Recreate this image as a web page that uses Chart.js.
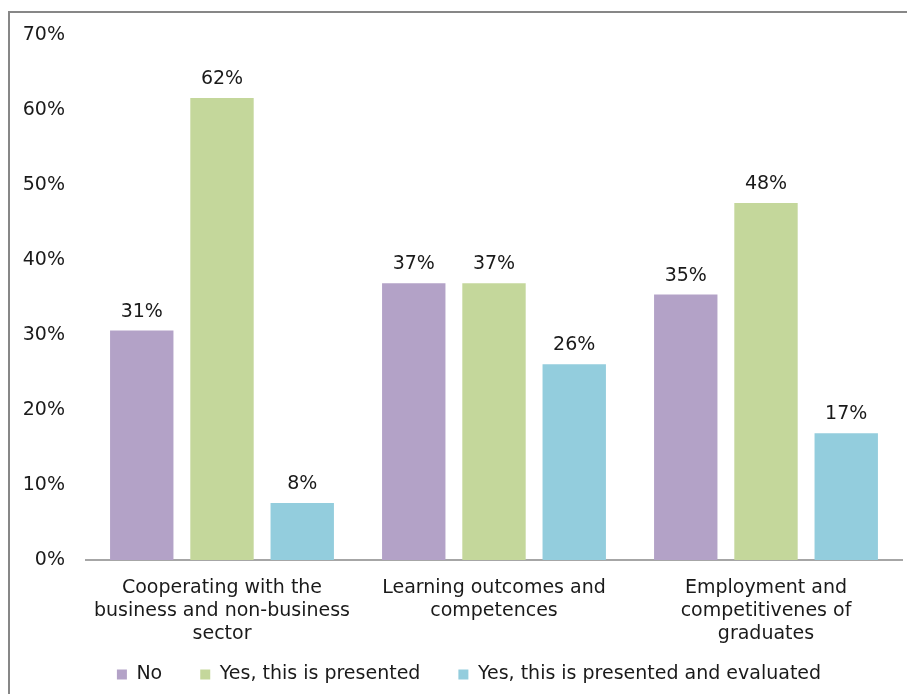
<!DOCTYPE html>
<html>
<head>
<meta charset="utf-8">
<script src="https://cdn.jsdelivr.net/npm/chart.js@4"></script>
<style>
  html, body { margin: 0; padding: 0; background: #fff; overflow: hidden; }
  #box {
    position: absolute;
    left: 8px;
    top: 11px;
    width: 922px;
    height: 720px;
    border: 2px solid #878787;
  }
  canvas { display: block; }
</style>
</head>
<body>
<div id="box"><canvas id="chart" width="922" height="680"></canvas></div>
<script>
const categories = [
  ['Cooperating with the', 'business and non-business', 'sector'],
  ['Learning outcomes and', 'competences'],
  ['Employment and', 'competitivenes of', 'graduates']
];
const seriesNames = ['No', 'Yes, this is presented', 'Yes, this is presented and evaluated'];
const noValues = [30.6, 36.9, 35.4];
const presentedValues = [61.6, 36.9, 47.6];
const evaluatedValues = [7.6, 26.1, 16.9];
const colors = ['#b3a2c7', '#c4d79b', '#93cddd'];

const font = "'DejaVu Sans', Verdana, sans-serif";

const valueLabels = {
  id: 'valueLabels',
  afterDatasetsDraw(chart) {
    const ctx = chart.ctx;
    ctx.save();
    ctx.font = `19px ${font}`;
    ctx.fillStyle = '#1a1a1a';
    ctx.textAlign = 'center';
    ctx.textBaseline = 'alphabetic';
    chart.data.datasets.forEach((ds, i) => {
      chart.getDatasetMeta(i).data.forEach((bar, j) => {
        ctx.fillText(Math.round(ds.data[j]) + '%', bar.x, bar.y - 14);
      });
    });
    ctx.restore();
  }
};

// pull the legend up under the axis labels and centre it on the frame
const legendPlace = {
  id: 'legendPlace',
  afterLayout(chart) {
    const l = chart.legend;
    l.top = 614;
    l.bottom = chart.height;
    l.height = l.bottom - l.top;
    l.left += 13;
    l.right += 13;
  }
};

new Chart(document.getElementById('chart'), {
  type: 'bar',
  data: {
    labels: categories,
    datasets: [
      { label: seriesNames[0], data: noValues, backgroundColor: colors[0] },
      { label: seriesNames[1], data: presentedValues, backgroundColor: colors[1] },
      { label: seriesNames[2], data: evaluatedValues, backgroundColor: colors[2] }
    ]
  },
  options: {
    responsive: false,
    animation: false,
    categoryPercentage: 0.885,
    barPercentage: 0.79,
    layout: { padding: { left: 0, right: 30, top: 22, bottom: 0 } },
    scales: {
      x: {
        grid: { display: false, drawTicks: false },
        border: { color: '#a6a6a6', width: 2 },
        ticks: {
          color: '#1a1a1a',
          font: { family: font, size: 19, lineHeight: 1.21 },
          padding: 17,
          maxRotation: 0,
          autoSkip: false
        }
      },
      y: {
        min: 0,
        max: 70,
        grid: { display: false, drawTicks: false },
        border: { display: false },
        afterFit: (scale) => { scale.width = 76; scale.paddingTop = 0; scale.paddingBottom = 0; },
        ticks: {
          stepSize: 10,
          color: '#1a1a1a',
          font: { family: font, size: 19 },
          padding: 21,
          callback: (v) => v + '%'
        }
      }
    },
    plugins: {
      legend: {
        position: 'bottom',
        maxHeight: 30,
        labels: {
          color: '#1a1a1a',
          font: { family: font, size: 19 },
          boxWidth: 10,
          boxHeight: 10,
          padding: 38
        }
      },
      tooltip: { enabled: false }
    }
  },
  plugins: [valueLabels, legendPlace]
});
</script>
</body>
</html>
